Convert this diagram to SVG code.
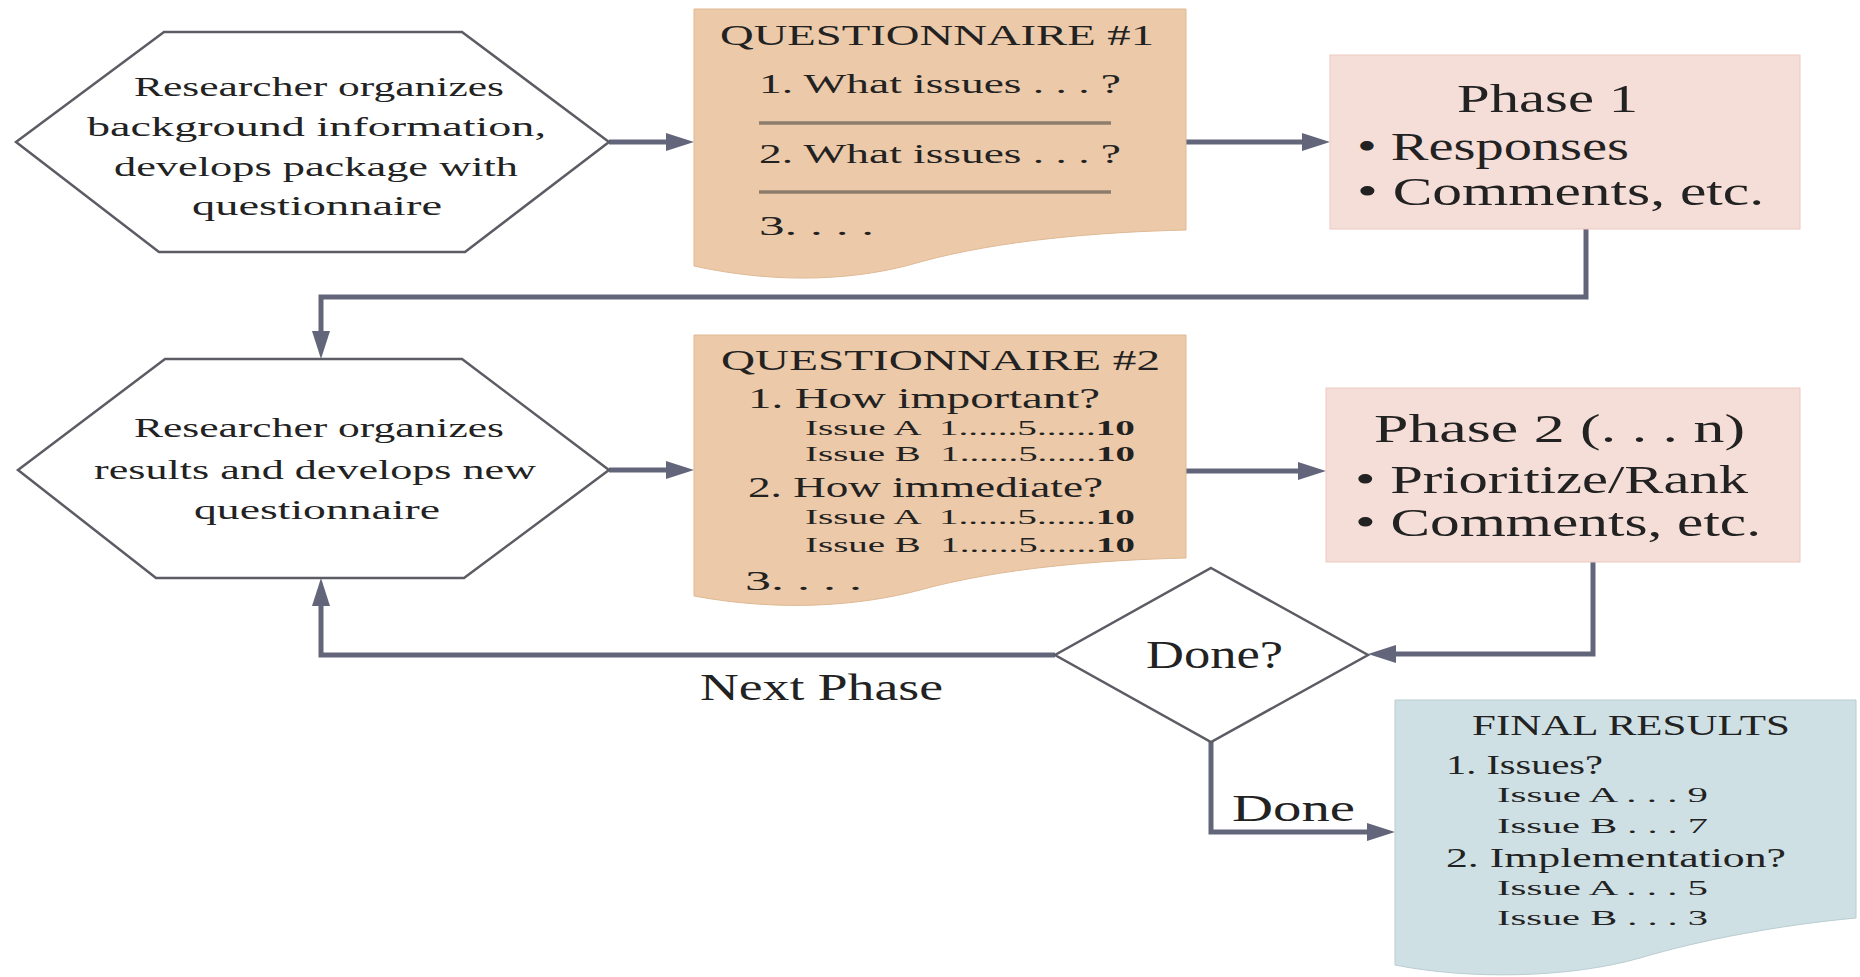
<svg xmlns="http://www.w3.org/2000/svg" width="1860" height="977" viewBox="0 0 1860 977">
<style>
text{font-family:"Liberation Serif","Times New Roman",serif;fill:#222222}
.pre{white-space:pre}
.hex{fill:#ffffff;stroke:#5c5c64;stroke-width:2.5}
.doc{fill:#ecc9a8;stroke:#dfb994;stroke-width:1}
.fin{fill:#cfe0e4;stroke:#b9cdd2;stroke-width:1}
.ph{fill:#f6ded8;stroke:#ecc9c1;stroke-width:1}
.rule{stroke:#8c7c6c;stroke-width:3.5}
.con{fill:none;stroke:#63667a;stroke-width:5;marker-end:url(#arr)}
.s27{font-size:27px}.s30{font-size:30px}.s29{font-size:29px}.s22{font-size:22px}.s40{font-size:40px}.s38{font-size:38px}.s28{font-size:28px}
</style>
<defs>
<marker id="arr" markerUnits="userSpaceOnUse" markerWidth="28" markerHeight="20" viewBox="0 0 28 20" refX="10" refY="10" orient="auto">
<path d="M0,1 L28,10 L0,19 Z" fill="#63667a"/>
</marker>
</defs>
<rect width="1860" height="977" fill="#ffffff"/>
<g id="connectors">
<path class="con" d="M609,142 H676"/>
<path class="con" d="M1186,142 H1312"/>
<path class="con" d="M1586,229 V297 H321 V341"/>
<path class="con" d="M609,470 H676"/>
<path class="con" d="M1186,471 H1308"/>
<path class="con" d="M1593,562 V654 H1386"/>
<path class="con" d="M1055,655 H321 V596"/>
<path class="con" d="M1211,742 V832 H1377"/>
</g>
<g id="start">
<polygon class="hex" points="164,32 462,32 609,142 465,252 159,252 16,142"/>
<text class="s27" x="134" y="96" textLength="370" lengthAdjust="spacingAndGlyphs">Researcher organizes</text>
<text class="s27" x="87" y="136" textLength="459" lengthAdjust="spacingAndGlyphs">background information,</text>
<text class="s27" x="114" y="176" textLength="404" lengthAdjust="spacingAndGlyphs">develops package with</text>
<text class="s27" x="192" y="215" textLength="250" lengthAdjust="spacingAndGlyphs">questionnaire</text>
</g>
<g id="q1">
<path class="doc" d="M694,9 H1186 V230 C1100,232 1000,240 920,262 C860,280 780,285 694,266 Z"/>
<text class="s30" x="720" y="45" textLength="434" lengthAdjust="spacingAndGlyphs">QUESTIONNAIRE #1</text>
<text class="s27" x="759" y="93" textLength="362" lengthAdjust="spacingAndGlyphs">1. What issues . . . ?</text>
<line class="rule" x1="759" y1="123" x2="1111" y2="123"/>
<text class="s27" x="759" y="163" textLength="362" lengthAdjust="spacingAndGlyphs">2. What issues . . . ?</text>
<line class="rule" x1="759" y1="192" x2="1111" y2="192"/>
<text class="s27" x="759" y="235" textLength="115" lengthAdjust="spacingAndGlyphs">3. . . .</text>
</g>
<g id="phase1">
<rect class="ph" x="1330" y="55" width="470" height="174"/>
<text class="s40" x="1457" y="112" textLength="181" lengthAdjust="spacingAndGlyphs">Phase 1</text>
<text class="s40" x="1357" y="160" textLength="272" lengthAdjust="spacingAndGlyphs">• Responses</text>
<text class="s40" x="1357" y="205" textLength="407" lengthAdjust="spacingAndGlyphs">• Comments, etc.</text>
</g>
<g id="organize">
<polygon class="hex" points="165,359 462,359 609,470 464,578 156,578 18,470"/>
<text class="s27" x="134" y="437" textLength="370" lengthAdjust="spacingAndGlyphs">Researcher organizes</text>
<text class="s27" x="94" y="479" textLength="442" lengthAdjust="spacingAndGlyphs">results and develops new</text>
<text class="s27" x="194" y="519" textLength="246" lengthAdjust="spacingAndGlyphs">questionnaire</text>
</g>
<g id="q2">
<path class="doc" d="M694,335 H1186 V558 C1100,560 1000,568 920,590 C860,606 780,612 694,596 Z"/>
<text class="s30" x="721" y="370" textLength="439" lengthAdjust="spacingAndGlyphs">QUESTIONNAIRE #2</text>
<text class="s29" x="748" y="408" textLength="352" lengthAdjust="spacingAndGlyphs">1. How important?</text>
<text class="s22 pre" x="805" y="435" textLength="330" lengthAdjust="spacingAndGlyphs">Issue A  1......5......<tspan font-weight="bold">10</tspan></text>
<text class="s22 pre" x="805" y="461" textLength="330" lengthAdjust="spacingAndGlyphs">Issue B  1......5......<tspan font-weight="bold">10</tspan></text>
<text class="s29" x="748" y="497" textLength="355" lengthAdjust="spacingAndGlyphs">2. How immediate?</text>
<text class="s22 pre" x="805" y="524" textLength="330" lengthAdjust="spacingAndGlyphs">Issue A  1......5......<tspan font-weight="bold">10</tspan></text>
<text class="s22 pre" x="805" y="552" textLength="330" lengthAdjust="spacingAndGlyphs">Issue B  1......5......<tspan font-weight="bold">10</tspan></text>
<text class="s27" x="745" y="590" textLength="117" lengthAdjust="spacingAndGlyphs">3. . . .</text>
</g>
<g id="phase2">
<rect class="ph" x="1326" y="388" width="474" height="174"/>
<text class="s40" x="1374" y="442" textLength="371" lengthAdjust="spacingAndGlyphs">Phase 2 (. . . n)</text>
<text class="s40" x="1355" y="493" textLength="393" lengthAdjust="spacingAndGlyphs">• Prioritize/Rank</text>
<text class="s40" x="1355" y="536" textLength="406" lengthAdjust="spacingAndGlyphs">• Comments, etc.</text>
</g>
<g id="done">
<polygon class="hex" points="1211,568 1368,655 1211,742 1055,655"/>
<text class="s40" x="1146" y="668" textLength="137" lengthAdjust="spacingAndGlyphs">Done?</text>
</g>
<g id="labels">
<text class="s38" x="700" y="700" textLength="243" lengthAdjust="spacingAndGlyphs">Next Phase</text>
<text class="s38" x="1232" y="821" textLength="123" lengthAdjust="spacingAndGlyphs">Done</text>
</g>
<g id="final">
<path class="fin" d="M1395,700 H1856 V918 C1780,925 1700,940 1640,958 C1570,978 1470,980 1395,965 Z"/>
<text class="s29" x="1472" y="735" textLength="318" lengthAdjust="spacingAndGlyphs">FINAL RESULTS</text>
<text class="s28" x="1446" y="774" textLength="157" lengthAdjust="spacingAndGlyphs">1. Issues?</text>
<text class="s22" x="1497" y="802" textLength="211" lengthAdjust="spacingAndGlyphs">Issue A . . . 9</text>
<text class="s22" x="1497" y="833" textLength="211" lengthAdjust="spacingAndGlyphs">Issue B . . . 7</text>
<text class="s28" x="1446" y="867" textLength="340" lengthAdjust="spacingAndGlyphs">2. Implementation?</text>
<text class="s22" x="1497" y="895" textLength="211" lengthAdjust="spacingAndGlyphs">Issue A . . . 5</text>
<text class="s22" x="1497" y="925" textLength="211" lengthAdjust="spacingAndGlyphs">Issue B . . . 3</text>
</g>
</svg>
